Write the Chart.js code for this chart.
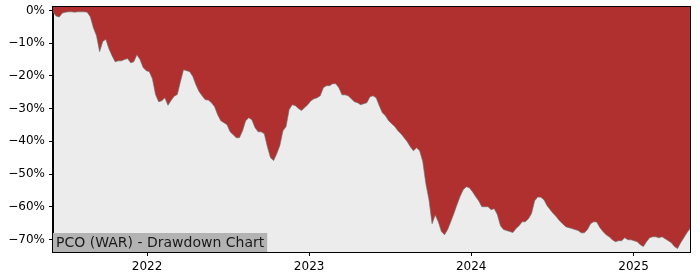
<!DOCTYPE html>
<html>
<head>
<meta charset="utf-8">
<script src="https://cdn.jsdelivr.net/npm/chart.js@4/dist/chart.umd.min.js"></script>
<style>
  html, body { margin: 0; padding: 0; background: #ffffff; }
  #wrap { width: 700px; height: 280px; }
</style>
</head>
<body>
<div id="wrap"><canvas id="drawdownChart" width="700" height="280"></canvas></div>
<script>
// weekly closes, first one on this date
const startDate = '2021-06-03';
const chartTitle = 'PCO (WAR) - Drawdown Chart';

// drawdown from running peak, in %
const drawdown = [
  -0.5, -1.7, -2.0, -0.8, -0.5, -0.4, -0.4, -0.5, -0.4, -0.4,
  -0.4, -0.5, -1.9, -5.3, -7.7, -12.6, -9.5, -8.8, -11.7, -13.8,
  -15.7, -15.4, -15.4, -15.0, -14.7, -16.0, -15.7, -13.5, -15.0, -17.4,
  -18.4, -18.7, -20.9, -25.7, -27.9, -27.6, -26.7, -29.0, -27.5, -26.2,
  -25.7, -21.8, -18.1, -18.4, -18.7, -20.2, -22.7, -24.8, -26.1, -27.3,
  -27.4, -28.2, -29.4, -31.9, -33.7, -34.3, -34.9, -37.1, -38.0, -38.9,
  -38.9, -36.8, -33.7, -32.8, -33.4, -35.8, -37.1, -37.1, -37.7, -41.7,
  -45.0, -45.9, -43.8, -41.3, -36.8, -35.5, -30.3, -28.8, -29.1, -30.0,
  -30.6, -29.7, -28.8, -27.6, -27.0, -26.7, -26.1, -23.6, -23.0, -23.0,
  -22.4, -22.4, -23.6, -25.8, -25.8, -26.1, -27.0, -27.9, -28.2, -28.8,
  -28.5, -28.2, -26.4, -26.1, -26.7, -29.1, -31.3, -32.2, -33.7, -34.6,
  -35.5, -36.8, -37.7, -38.9, -40.1, -41.7, -42.9, -42.0, -42.9, -46.2,
  -53.0, -57.9, -65.2, -62.5, -64.6, -67.6, -68.6, -67.0, -64.6, -62.1,
  -59.4, -56.9, -54.8, -53.9, -54.2, -55.4, -56.9, -58.2, -60.0, -60.0,
  -60.0, -60.9, -60.6, -62.4, -65.8, -67.0, -67.3, -67.6, -67.9, -66.7,
  -65.8, -64.6, -64.6, -63.7, -62.1, -58.2, -57.0, -57.1, -57.9, -59.7,
  -60.9, -62.1, -63.1, -64.3, -65.2, -66.1, -66.4, -66.7, -67.0, -67.3,
  -68.0, -68.0, -67.0, -65.2, -64.6, -64.7, -66.4, -67.6, -68.6, -69.2,
  -70.1, -70.7, -70.4, -70.4, -69.5, -70.1, -70.1, -70.4, -70.7, -71.6,
  -72.2, -70.7, -69.5, -69.2, -69.2, -69.5, -69.2, -69.8, -70.4, -71.0,
  -72.2, -72.8, -71.0, -69.5, -68.0, -66.7
];

const yTicks = [0, -10, -20, -30, -40, -50, -60, -70];
const yearTicks = [2022, 2023, 2024, 2025];

const DAY = 86400000;
const t0 = Date.parse(startDate);
const points = drawdown.map((v, i) => ({ x: t0 + i * 7 * DAY, y: v }));

const FONT = 'DejaVu Sans';

// light grey plot background
const plotBackground = {
  id: 'plotBackground',
  beforeDraw(chart) {
    const { ctx, chartArea: a } = chart;
    ctx.save();
    ctx.fillStyle = '#ececec';
    ctx.fillRect(a.left, a.top, a.right - a.left, a.bottom - a.top);
    ctx.restore();
  }
};

// title box in the lower left corner + frame around the plot
const titleBox = {
  id: 'titleBox',
  afterDraw(chart) {
    const { ctx, chartArea: a } = chart;
    ctx.save();
    ctx.font = '14px "' + FONT + '"';
    const w = ctx.measureText(chartTitle).width;
    ctx.fillStyle = '#b3b3b3';
    ctx.fillRect(a.left, a.bottom - 19, w + 6, 19);
    ctx.fillStyle = '#1a1a1a';
    ctx.textBaseline = 'alphabetic';
    ctx.fillText(chartTitle, a.left + 3, a.bottom - 5);
    ctx.strokeStyle = '#000000';
    ctx.lineWidth = 1;
    ctx.strokeRect(Math.round(a.left) - 0.5, Math.round(a.top) - 0.5,
      Math.round(a.right - a.left) + 1, Math.round(a.bottom - a.top) + 1);
    ctx.restore();
  }
};

const ctx = document.getElementById('drawdownChart').getContext('2d');
const drawdownChart = new Chart(ctx, {
  type: 'line',
  data: {
    datasets: [{
      data: points,
      fill: 'end',
      backgroundColor: '#b03030',
      borderColor: 'rgba(110, 110, 110, 0.8)',
      borderWidth: 0.8,
      pointRadius: 0,
      tension: 0
    }]
  },
  options: {
    responsive: false,
    animation: false,
    devicePixelRatio: 1,
    layout: { padding: { top: 7, right: 10, left: 0, bottom: 0 } },
    plugins: {
      legend: { display: false },
      tooltip: { enabled: false }
    },
    scales: {
      x: {
        type: 'linear',
        min: points[0].x,
        max: points[points.length - 1].x,
        afterBuildTicks: (scale) => {
          scale.ticks = yearTicks.map((y) => ({ value: Date.UTC(y, 0, 1) }));
        },
        afterFit: (scale) => {
          scale.height = 28;
          scale.paddingLeft = 0;
          scale.paddingRight = 0;
        },
        ticks: {
          callback: (v) => String(new Date(v).getUTCFullYear()),
          color: '#000000',
          font: { family: FONT, size: 12 },
          padding: 4,
          maxRotation: 0
        },
        grid: { drawOnChartArea: false, tickLength: 4, color: '#000000' },
        border: { color: '#000000', width: 1 }
      },
      y: {
        min: -73.85,
        max: 1.07,
        afterBuildTicks: (scale) => {
          scale.ticks = yTicks.map((v) => ({ value: v }));
        },
        afterFit: (scale) => {
          scale.width = 53;
          scale.paddingTop = 0;
          scale.paddingBottom = 0;
        },
        ticks: {
          callback: (v) => (v < 0 ? '\u2212' : '') + Math.abs(v) + '%',
          color: '#000000',
          font: { family: FONT, size: 12 },
          padding: 4
        },
        grid: { drawOnChartArea: false, tickLength: 4, color: '#000000' },
        border: { color: '#000000', width: 1 }
      }
    }
  },
  plugins: [plotBackground, titleBox]
});
</script>
</body>
</html>
